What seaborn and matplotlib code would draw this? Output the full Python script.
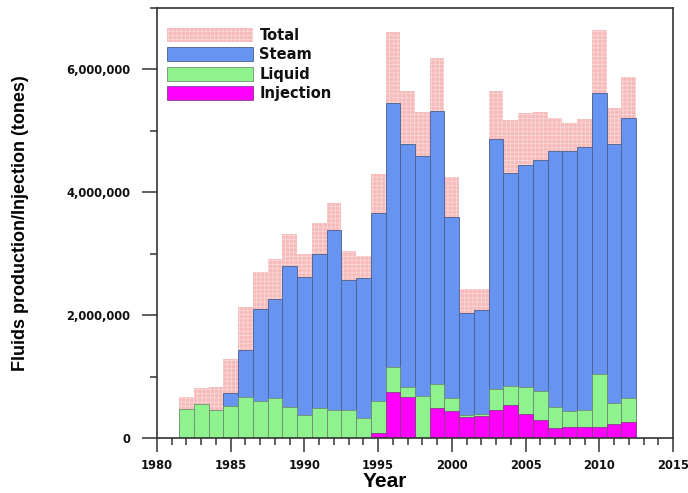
import matplotlib
matplotlib.use("Agg")
import matplotlib.pyplot as plt
from matplotlib.patches import Patch
from matplotlib.ticker import MultipleLocator, FuncFormatter
import pandas as pd
import seaborn as sns

# Annual field fluids (tonnes), 1982-2012
years = list(range(1982, 2013))
total = [671e3, 808e3, 835e3, 1280e3, 2125e3, 2704e3, 2921e3, 3320e3, 3000e3, 3500e3,
         3830e3, 3040e3, 2960e3, 4300e3, 6610e3, 5650e3, 5300e3, 6190e3, 4250e3, 2420e3,
         2430e3, 5650e3, 5170e3, 5290e3, 5310e3, 5210e3, 5130e3, 5200e3, 6650e3, 5380e3,
         5870e3]
steam = [205e3, 255e3, 380e3, 727e3, 1431e3, 2093e3, 2260e3, 2800e3, 2620e3, 3000e3,
         3380e3, 2570e3, 2610e3, 3670e3, 5450e3, 4790e3, 4590e3, 5320e3, 3590e3, 2030e3,
         2080e3, 4860e3, 4310e3, 4440e3, 4530e3, 4670e3, 4670e3, 4740e3, 5610e3, 4790e3,
         5210e3]
liquid = [466e3, 553e3, 455e3, 525e3, 672e3, 602e3, 645e3, 499e3, 374e3, 483e3,
          455e3, 455e3, 320e3, 607e3, 1150e3, 835e3, 688e3, 873e3, 645e3, 374e3,
          385e3, 791e3, 845e3, 835e3, 770e3, 510e3, 439e3, 450e3, 1036e3, 564e3,
          645e3]
injection = [0, 0, 0, 0, 0, 0, 0, 0, 0, 0,
             0, 0, 0, 86e3, 743e3, 672e3, 0, 493e3, 439e3, 347e3,
             363e3, 455e3, 537e3, 390e3, 293e3, 157e3, 173e3, 184e3, 184e3, 228e3,
             255e3]

series_names = ["Total", "Steam", "Liquid", "Injection"]

df = pd.DataFrame({"Year": years, "Total": total, "Steam": steam,
                   "Liquid": liquid, "Injection": injection})

sns.set_style("ticks")
plt.rcParams["font.family"] = ["Liberation Sans", "DejaVu Sans"]
plt.rcParams["font.weight"] = "bold"
plt.rcParams["axes.labelweight"] = "bold"
plt.rcParams["axes.labelcolor"] = "black"
plt.rcParams["text.color"] = "black"
plt.rcParams["hatch.linewidth"] = 0.5

styles = {
    "Total": dict(color="#f6baba", edgecolor="#fbdada", linewidth=0, hatch="++++"),
    "Steam": dict(color="#6694f0", edgecolor="#4a5f8c", linewidth=0.6),
    "Liquid": dict(color="#8ef38e", edgecolor="#6f8f6f", linewidth=0.6),
    "Injection": dict(color="#ff00ff", edgecolor="#8a3a8a", linewidth=0.6),
}

fig = plt.figure(figsize=(6.88, 4.93), dpi=100)
ax = fig.add_axes([157 / 688, 1 - 438 / 493, (673 - 157) / 688, (438 - 8) / 493])

# Each series is drawn from zero, layered back to front
for name in series_names:
    sns.histplot(data=df, x="Year", weights=name, discrete=True, ax=ax,
                 alpha=1, **styles[name])

ax.set_xlim(1980, 2015)
ax.set_ylim(0, 7e6)
ax.xaxis.set_major_locator(MultipleLocator(5))
ax.xaxis.set_minor_locator(MultipleLocator(1))
ax.yaxis.set_major_locator(MultipleLocator(2e6))
ax.yaxis.set_minor_locator(MultipleLocator(1e6))
ax.yaxis.set_major_formatter(FuncFormatter(lambda v, p: f"{v:,.0f}"))

for side in ["left", "right", "top", "bottom"]:
    ax.spines[side].set_visible(True)
    ax.spines[side].set_color("#333333")
    ax.spines[side].set_linewidth(1.2)

ax.tick_params(axis="x", which="major", direction="out", length=10, width=1.1,
               color="#333333", labelsize=8.3, pad=5)
ax.tick_params(axis="x", which="minor", direction="out", length=5, width=1.1,
               color="#333333")
ax.tick_params(axis="y", which="major", direction="out", length=11, width=1.1,
               color="#333333", labelsize=8.3, pad=8)
ax.tick_params(axis="y", which="minor", direction="out", length=5, width=1.1,
               color="#333333")
for lab in ax.get_xticklabels() + ax.get_yticklabels():
    lab.set_fontweight("bold")
    lab.set_family("DejaVu Sans")
    lab.set_color("#111111")

ax.set_xlabel("Year", fontsize=15, fontweight="bold", color="black")
ax.set_ylabel("Fluids production/Injection (tones)", fontsize=13,
              fontweight="bold", color="black")
ax.xaxis.set_label_coords(0.442, -0.078)
ax.yaxis.set_label_coords(-0.248, 0.5)

handles = [Patch(facecolor=styles[n]["color"], edgecolor=styles[n]["edgecolor"],
                 linewidth=styles[n]["linewidth"], hatch=styles[n].get("hatch"))
           for n in series_names]
leg = ax.legend(handles, series_names, loc="upper left", bbox_to_anchor=(0.019, 0.954),
                frameon=False, handlelength=5.9, handleheight=1.1, labelspacing=0.3,
                handletextpad=0.45, borderpad=0, borderaxespad=0,
                prop={"weight": "bold", "size": 10.5, "family": "DejaVu Sans"})
for t in leg.get_texts():
    t.set_color("#111111")

fig.savefig("out.png", dpi=100)
